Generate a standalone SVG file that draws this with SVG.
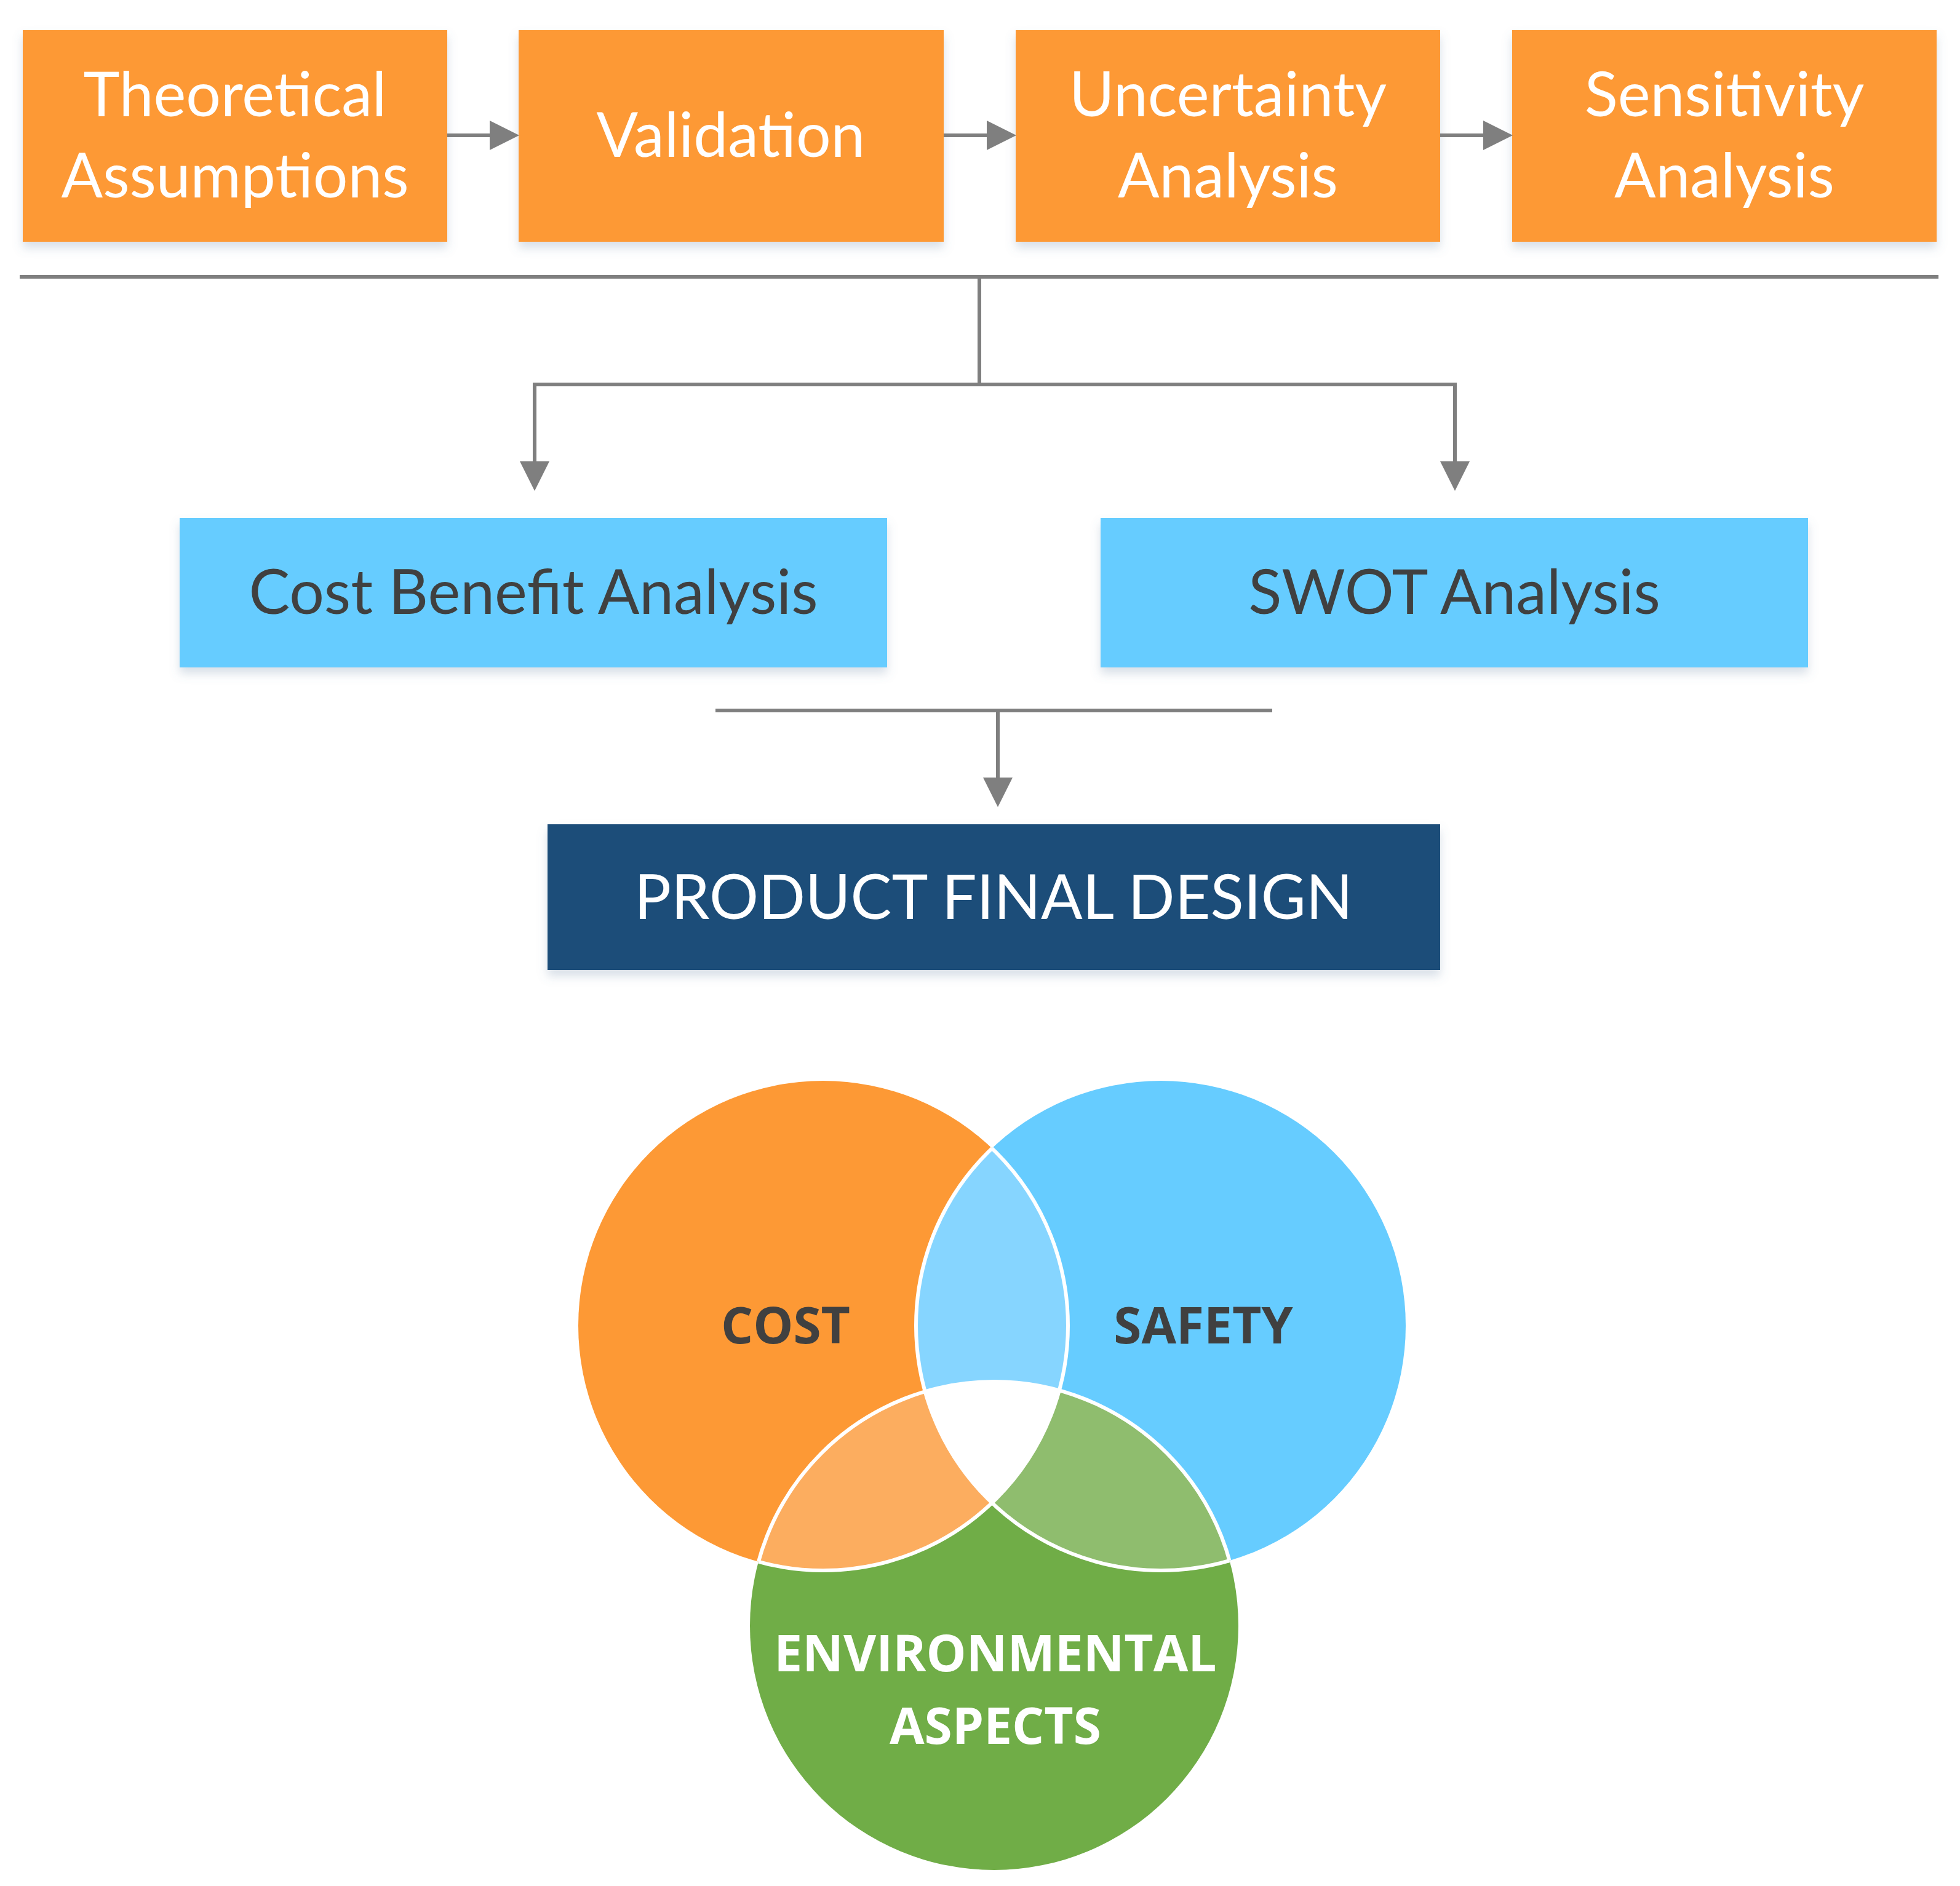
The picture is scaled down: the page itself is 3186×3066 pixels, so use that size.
<svg xmlns="http://www.w3.org/2000/svg" width="3186" height="3066" viewBox="0 0 3186 3066">
<style>
.o{fill:#FD9935}.b{fill:#66CCFF}.d{fill:#1F4E79}
.t{font-family:Lato,"Open Sans",sans-serif;font-size:100px;text-anchor:middle}
.w{fill:#FFFFFF}.k{fill:#404040}
.v{font-family:"Open Sans",sans-serif;font-weight:bold;font-size:82px;text-anchor:middle}
.c{stroke:#7F7F7F;stroke-width:6;fill:none}
</style>
<defs>
<marker id="ah" markerWidth="8" markerHeight="8" refX="7" refY="4" orient="auto" markerUnits="strokeWidth"><path d="M0,0L8,4L0,8Z" fill="#7F7F7F"/></marker>
<filter id="sh" x="-5%" y="-10%" width="110%" height="130%"><feDropShadow dx="0" dy="10" stdDeviation="8" flood-color="#6080A0" flood-opacity="0.25"/></filter>
<clipPath id="cA"><circle cx="1338" cy="2155" r="398"/></clipPath>
<clipPath id="cB"><circle cx="1887" cy="2155" r="398"/></clipPath>
<clipPath id="cC"><circle cx="1616" cy="2643" r="397"/></clipPath>
<clipPath id="nA"><circle cx="1887" cy="2155" r="398"/><circle cx="1616" cy="2643" r="397"/></clipPath>
<clipPath id="nB"><circle cx="1338" cy="2155" r="398"/><circle cx="1616" cy="2643" r="397"/></clipPath>
<clipPath id="nC"><circle cx="1338" cy="2155" r="398"/><circle cx="1887" cy="2155" r="398"/></clipPath>
</defs>
<rect width="3186" height="3066" fill="#FFFFFF"/>
<g id="n1" filter="url(#sh)"><rect class="o" x="37" y="49" width="690" height="344"/><text class="t w" x="382" y="189">Theoretical</text><text class="t w" x="382" y="321">Assumptions</text></g>
<g id="n2" filter="url(#sh)"><rect class="o" x="843" y="49" width="691" height="344"/><text class="t w" x="1188" y="255">Validation</text></g>
<g id="n3" filter="url(#sh)"><rect class="o" x="1651" y="49" width="690" height="344"/><text class="t w" x="1996" y="189">Uncertainty</text><text class="t w" x="1996" y="321">Analysis</text></g>
<g id="n4" filter="url(#sh)"><rect class="o" x="2458" y="49" width="690" height="344"/><text class="t w" x="2803" y="189">Sensitivity</text><text class="t w" x="2803" y="321">Analysis</text></g>
<g id="n5" filter="url(#sh)"><rect class="b" x="292" y="842" width="1150" height="243"/><text class="t k" x="867" y="998">Cost Benefit Analysis</text></g>
<g id="n6" filter="url(#sh)"><rect class="b" x="1789" y="842" width="1150" height="243"/><text class="t k" x="2364" y="998">SWOT Analysis</text></g>
<g id="n7" filter="url(#sh)"><rect class="d" x="890" y="1340" width="1451" height="237"/><text class="t w" x="1615" y="1494">PRODUCT FINAL DESIGN</text></g>
<g id="connectors">
<line class="c" x1="727" y1="220" x2="838" y2="220" marker-end="url(#ah)"/>
<line class="c" x1="1534" y1="220" x2="1646" y2="220" marker-end="url(#ah)"/>
<line class="c" x1="2341" y1="220" x2="2453" y2="220" marker-end="url(#ah)"/>
<line class="c" x1="32" y1="450" x2="3151" y2="450"/>
<line class="c" x1="1592" y1="450" x2="1592" y2="625"/>
<polyline class="c" points="1592,625 869,625 869,792" marker-end="url(#ah)"/>
<polyline class="c" points="1592,625 2365,625 2365,792" marker-end="url(#ah)"/>
<line class="c" x1="1163" y1="1155" x2="2068" y2="1155"/>
<line class="c" x1="1622" y1="1155" x2="1622" y2="1306" marker-end="url(#ah)"/>
</g>
<g id="venn">
<circle cx="1338" cy="2155" r="398" fill="#FD9935"/>
<circle cx="1887" cy="2155" r="398" fill="#66CCFF"/>
<circle cx="1616" cy="2643" r="397" fill="#70AD47"/>
<circle cx="1887" cy="2155" r="398" fill="#86D5FF" clip-path="url(#cA)"/>
<circle cx="1616" cy="2643" r="397" fill="#FCAD5F" clip-path="url(#cA)"/>
<circle cx="1616" cy="2643" r="397" fill="#8FBD6E" clip-path="url(#cB)"/>
<g clip-path="url(#cA)"><circle cx="1616" cy="2643" r="397" fill="#FFFFFF" clip-path="url(#cB)"/></g>
<circle cx="1338" cy="2155" r="398" fill="none" stroke="#FFFFFF" stroke-width="6" clip-path="url(#nA)"/>
<circle cx="1887" cy="2155" r="398" fill="none" stroke="#FFFFFF" stroke-width="6" clip-path="url(#nB)"/>
<circle cx="1616" cy="2643" r="397" fill="none" stroke="#FFFFFF" stroke-width="6" clip-path="url(#nC)"/>
<text class="v k" x="1277" y="2184">COST</text>
<text class="v k" x="1956" y="2184">SAFETY</text>
<text class="v w" x="1618" y="2717">ENVIRONMENTAL</text>
<text class="v w" x="1618" y="2835">ASPECTS</text>
</g>
</svg>
